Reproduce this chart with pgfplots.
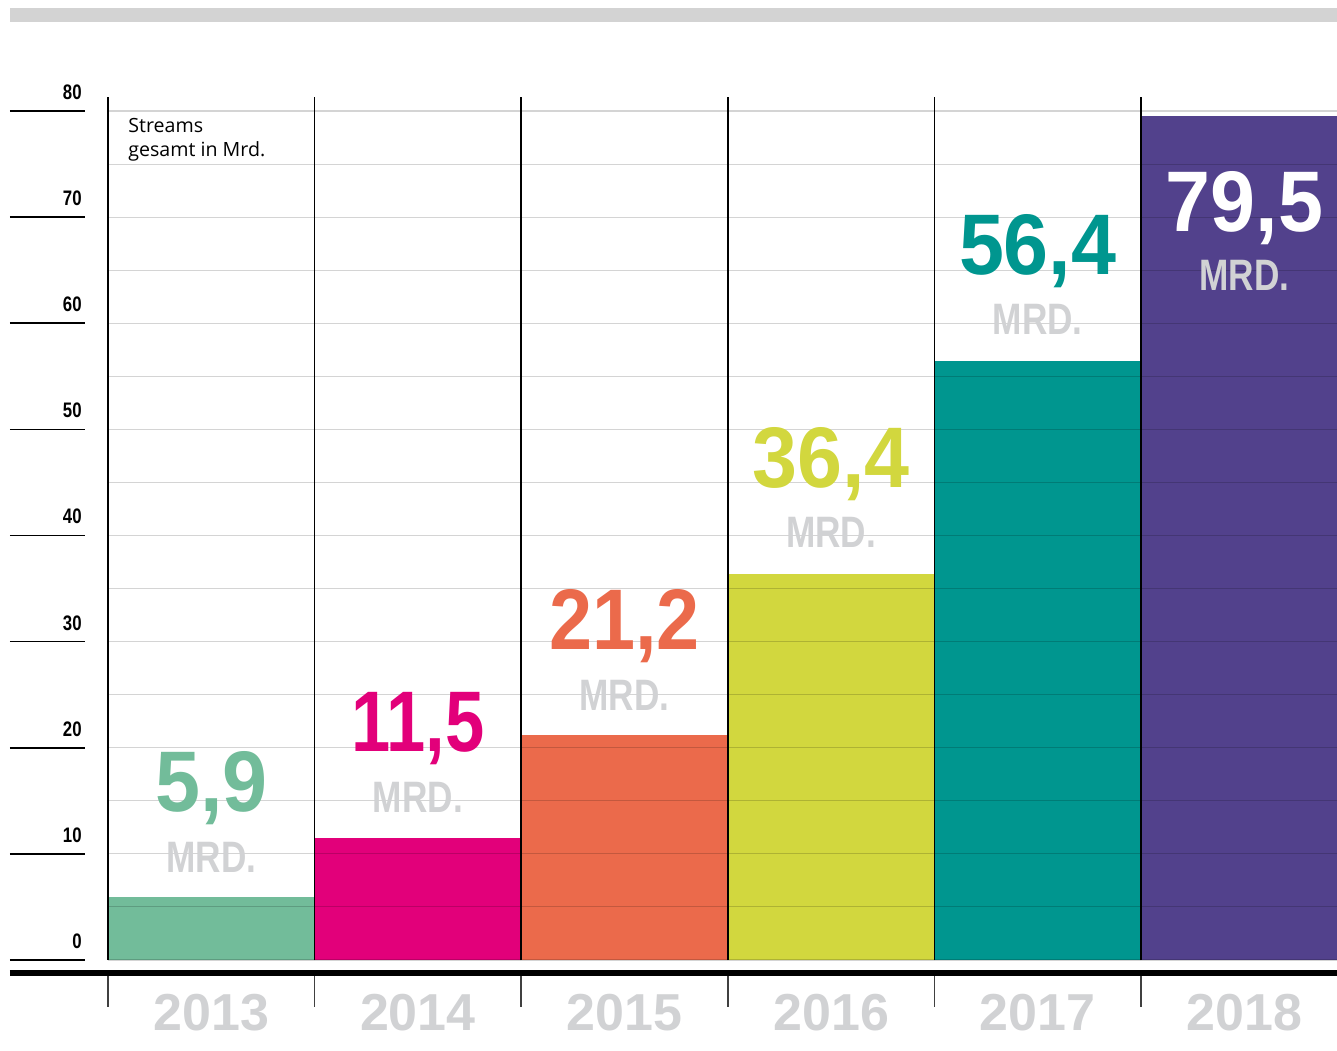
\documentclass[border=0pt]{standalone}
\usepackage{fontspec}
\setmainfont{Liberation Sans}
\newfontfamily\opensans{Open Sans}
\usepackage{graphicx}
\usepackage{pgfplots}
\pgfplotsset{compat=1.18}
\definecolor{topgray}{HTML}{D3D3D3}
\definecolor{labgray}{HTML}{D1D2D4}
\definecolor{ctiii}{HTML}{72BC9A}
\definecolor{cxiv}{HTML}{E2007A}
\definecolor{cxv}{HTML}{EB6A4B}
\definecolor{cxvi}{HTML}{D2D73E}
\definecolor{cxvii}{HTML}{00968F}
\definecolor{cxviii}{HTML}{52418C}
\newcommand{\valfont}{\bfseries\fontsize{43}{43}\selectfont}
\newcommand{\val}[2][0.94]{\scalebox{#1}[1]{#2}}
\newcommand{\yrfont}{\bfseries\fontsize{26}{26}\selectfont}
\newcommand{\mrd}{\scalebox{0.8}[1]{\bfseries\fontsize{22}{22}\selectfont MRD.}}
\begin{document}
\begin{tikzpicture}
\path[use as bounding box] (0,0) rectangle (668.5pt,525pt);
\fill[topgray] (5pt,514pt) rectangle (668.5pt,521pt);
\begin{axis}[at={(54pt,45pt)}, anchor=south west, scale only axis,
  width=619.8pt, height=424.5pt, xmin=0, xmax=6, ymin=0, ymax=80,
  hide axis, clip=false]
\addplot[ybar, bar width=1, bar shift=0pt, fill=ctiii, draw=none] coordinates {(0.5,5.9)};
\addplot[ybar, bar width=1, bar shift=0pt, fill=cxiv, draw=none] coordinates {(1.5,11.5)};
\addplot[ybar, bar width=1, bar shift=0pt, fill=cxv, draw=none] coordinates {(2.5,21.2)};
\addplot[ybar, bar width=1, bar shift=0pt, fill=cxvi, draw=none] coordinates {(3.5,36.4)};
\addplot[ybar, bar width=1, bar shift=0pt, fill=cxvii, draw=none] coordinates {(4.5,56.4)};
\addplot[ybar, bar width=1, bar shift=0pt, fill=cxviii, draw=none] coordinates {(5.5,79.5)};
% grid
\pgfplotsinvokeforeach{0,5,10,15,20,25,30,35,40,45,50,55,60,65,70,75,80}{
  \draw[black, opacity=0.17, line width=0.55pt] (axis cs:0,#1) -- (axis cs:6,#1);
}
% left ticks and labels
\pgfplotsinvokeforeach{0,10,20,30,40,50,60,70,80}{
  \draw[black, line width=0.75pt] ([xshift=-49pt]axis cs:0,#1) -- ([xshift=-11.5pt]axis cs:0,#1);
  \node[anchor=base east, inner sep=0pt, font=\bfseries\fontsize{10.5}{10.5}\selectfont]
     at ([xshift=-13pt, yshift=5.8pt]axis cs:0,#1) {\scalebox{0.8}[1]{#1}};
}
% vertical separators and bottom ticks
\pgfplotsinvokeforeach{0,1,2,3,4,5}{
  \draw[black, line width=0.75pt] (axis cs:#1,0) -- (axis cs:#1,81.3);
  \draw[black!75, line width=0.75pt] ([yshift=-7.5pt]axis cs:#1,0) -- ([yshift=-23.5pt]axis cs:#1,0);
}
% baseline
\draw[black, line width=3pt] ([xshift=-49pt, yshift=-6.5pt]axis cs:0,0) -- ([yshift=-6.5pt]axis cs:6,0);
% years
\node[anchor=base, inner sep=0pt, text=labgray, font=\yrfont] at ([yshift=-35pt]axis cs:0.5,0) {2013};
\node[anchor=base, inner sep=0pt, text=labgray, font=\yrfont] at ([yshift=-35pt]axis cs:1.5,0) {2014};
\node[anchor=base, inner sep=0pt, text=labgray, font=\yrfont] at ([yshift=-35pt]axis cs:2.5,0) {2015};
\node[anchor=base, inner sep=0pt, text=labgray, font=\yrfont] at ([yshift=-35pt]axis cs:3.5,0) {2016};
\node[anchor=base, inner sep=0pt, text=labgray, font=\yrfont] at ([yshift=-35pt]axis cs:4.5,0) {2017};
\node[anchor=base, inner sep=0pt, text=labgray, font=\yrfont] at ([yshift=-35pt]axis cs:5.5,0) {2018};
% value labels
\node[anchor=base, inner sep=0pt, text=ctiii, font=\valfont] at ([yshift=43pt]axis cs:0.5,5.9) {\val{5,9}};
\node[anchor=base, inner sep=0pt, text=labgray] at ([yshift=12.5pt]axis cs:0.5,5.9) {\mrd};
\node[anchor=base, inner sep=0pt, text=cxiv, font=\valfont] at ([yshift=43pt]axis cs:1.5,11.5) {\val[0.82]{11,5}};
\node[anchor=base, inner sep=0pt, text=labgray] at ([yshift=12.5pt]axis cs:1.5,11.5) {\mrd};
\node[anchor=base, inner sep=0pt, text=cxv, font=\valfont] at ([yshift=43pt]axis cs:2.5,21.2) {\val[0.9]{21,2}};
\node[anchor=base, inner sep=0pt, text=labgray] at ([yshift=12.5pt]axis cs:2.5,21.2) {\mrd};
\node[anchor=base, inner sep=0pt, text=cxvi, font=\valfont] at ([yshift=43pt]axis cs:3.5,36.4) {\val{36,4}};
\node[anchor=base, inner sep=0pt, text=labgray] at ([yshift=13pt]axis cs:3.5,36.4) {\mrd};
\node[anchor=base, inner sep=0pt, text=cxvii, font=\valfont] at ([yshift=43.5pt]axis cs:4.5,56.4) {\val{56,4}};
\node[anchor=base, inner sep=0pt, text=labgray] at ([yshift=13.5pt]axis cs:4.5,56.4) {\mrd};
\node[anchor=base, inner sep=0pt, text=white, font=\valfont] at (axis cs:5.5,68.6) {\val{79,5}};
\node[anchor=base, inner sep=0pt, text=labgray] at (axis cs:5.5,63.1) {\mrd};
% caption
\node[anchor=base west, inner sep=0pt, font=\opensans\fontsize{9.8}{9.8}\selectfont] at ([xshift=10pt]axis cs:0,78.0) {Streams};
\node[anchor=base west, inner sep=0pt, font=\opensans\fontsize{9.8}{9.8}\selectfont] at ([xshift=10pt, yshift=-12pt]axis cs:0,78.0) {gesamt in Mrd.};
\end{axis}
\end{tikzpicture}
\end{document}
